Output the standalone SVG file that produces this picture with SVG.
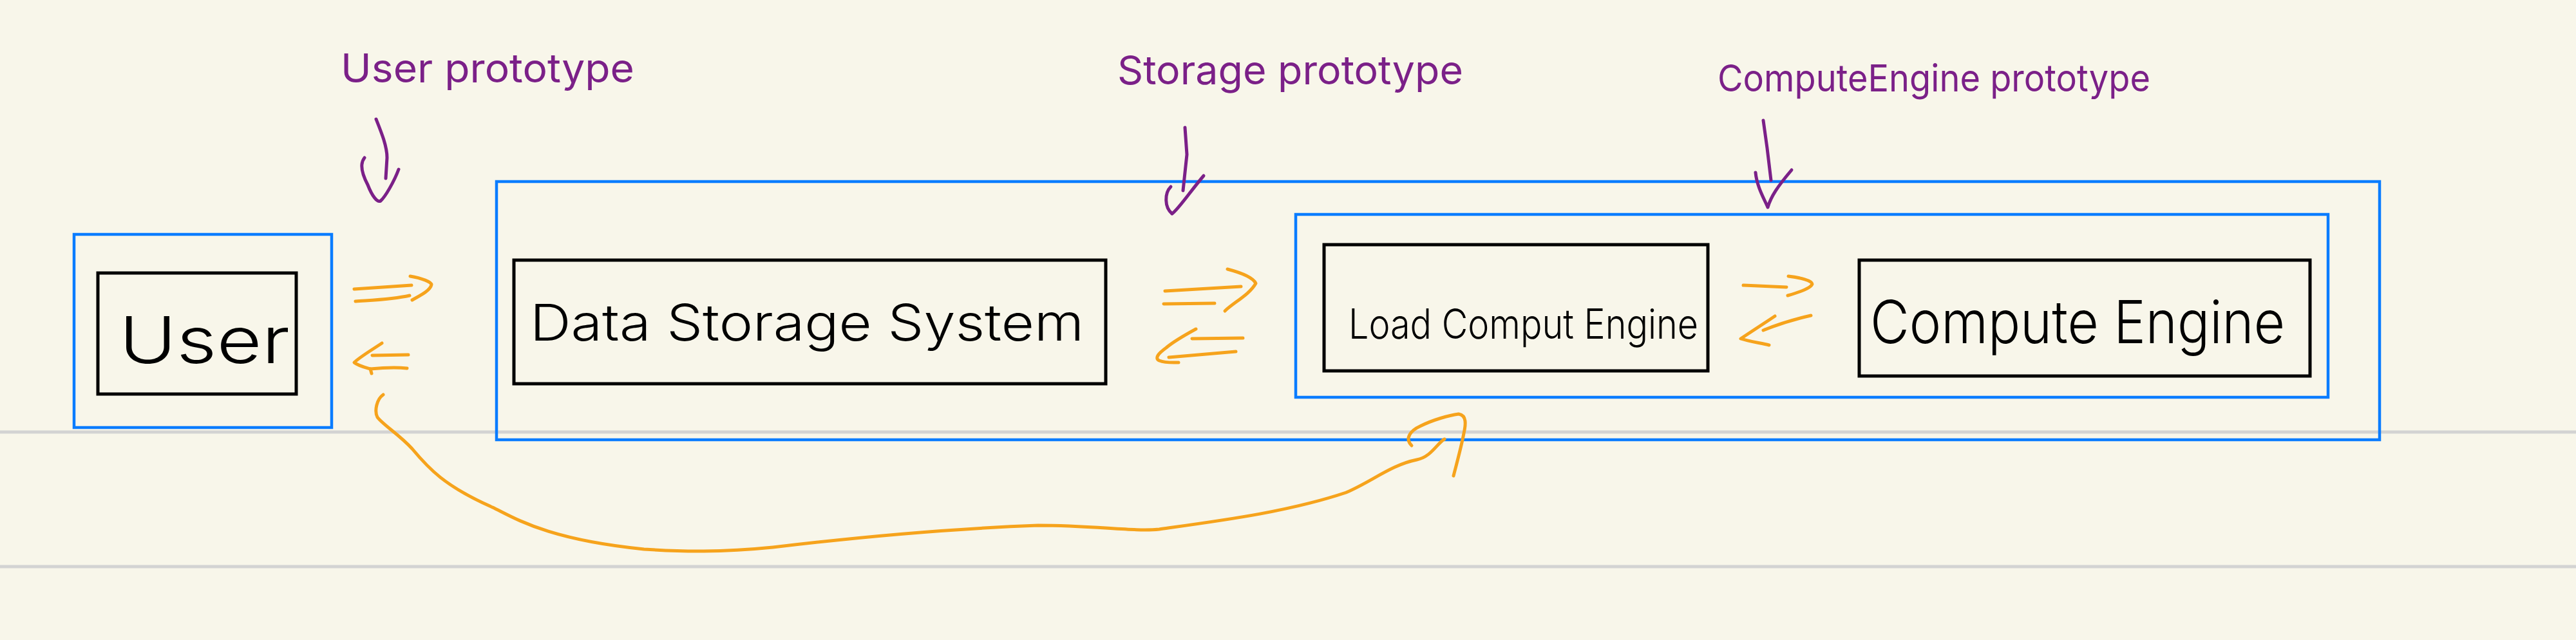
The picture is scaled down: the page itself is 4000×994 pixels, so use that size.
<svg xmlns="http://www.w3.org/2000/svg" width="4000" height="994" viewBox="0 0 4000 994">
<defs>
<style>
.bg{fill:#f8f6ea}
.rule{stroke:#d3d3d3;stroke-width:5;fill:none}
.frame{fill:none;stroke:#0a7cff;stroke-width:4.5}
.box{fill:none;stroke:#000;stroke-width:5}
.node{font-family:"Inter","Liberation Sans",sans-serif;font-weight:300;fill:#000}
.note{font-family:"Inter","Liberation Sans",sans-serif;font-weight:400;fill:#7b2088}
.ink{fill:none;stroke:#f6a31c;stroke-width:5;stroke-linecap:round;stroke-linejoin:round}
.pen{fill:none;stroke:#7b2088;stroke-width:5;stroke-linecap:round;stroke-linejoin:round}
</style>
</defs>
<rect class="bg" x="0" y="0" width="4000" height="994"/>
<g id="ruled-lines">
<line class="rule" x1="0" y1="671" x2="4000" y2="671"/>
<line class="rule" x1="0" y1="880" x2="4000" y2="880"/>
</g>

<g id="user-prototype">
<rect class="frame" x="115" y="364" width="400" height="300"/>
<text class="note" x="529" y="128" font-size="62" textLength="456" lengthAdjust="spacingAndGlyphs">User prototype</text>
</g>
<g id="user">
<rect class="box" x="152" y="424" width="308" height="188"/>
<text class="node" x="185" y="564" font-size="100" textLength="265" lengthAdjust="spacingAndGlyphs">User</text>
</g>

<g id="storage-prototype">
<rect class="frame" x="771" y="282" width="2924" height="401"/>
<text class="note" x="1735" y="131" font-size="62" textLength="537" lengthAdjust="spacingAndGlyphs">Storage prototype</text>
</g>
<g id="data-storage-system">
<rect class="box" x="798" y="404" width="919" height="192"/>
<text class="node" x="823" y="529" font-size="78" textLength="860" lengthAdjust="spacingAndGlyphs">Data Storage System</text>
</g>

<g id="compute-engine-prototype">
<rect class="frame" x="2012" y="333" width="1603" height="284"/>
<text class="note" x="2667" y="142" font-size="58" textLength="672" lengthAdjust="spacingAndGlyphs">ComputeEngine prototype</text>
</g>
<g id="load-compute-engine">
<rect class="box" x="2056" y="380" width="596" height="196"/>
<text class="node" x="2094" y="526" font-size="64" textLength="543" lengthAdjust="spacingAndGlyphs">Load Comput Engine</text>
</g>
<g id="compute-engine">
<rect class="box" x="2887" y="404" width="700" height="180"/>
<text class="node" x="2904" y="533" font-size="92" textLength="644" lengthAdjust="spacingAndGlyphs">Compute Engine</text>
</g>

<g id="connectors">
<!-- purple pointers from labels -->
<path class="pen" d="M584,185 C592,205 601,227 601,245 L599,277"/>
<path class="pen" d="M566,245 C558,255 562,270 571,287 C578,305 586,315 591,312 C598,306 612,282 619,263"/>
<path class="pen" d="M1840,198 L1843,240 L1837,296"/>
<path class="pen" d="M1818,290 C1808,300 1808,322 1820,332 C1830,325 1850,295 1869,273"/>
<path class="pen" d="M2738,187 L2744,230 L2750,280"/>
<path class="pen" d="M2726,268 C2728,290 2740,310 2745,322 C2750,305 2760,290 2782,264"/>

<!-- User <-> Data Storage -->
<path class="ink" d="M550,449 L639,443"/>
<path class="ink" d="M552,468 C580,466 610,465 636,459"/>
<path class="ink" d="M637,429 C655,432 670,438 670,442 C668,452 650,460 640,466"/>
<path class="ink" d="M578,552 L634,551"/>
<path class="ink" d="M575,573 C595,571 615,570 632,572"/>
<path class="ink" d="M593,533 C575,545 558,555 550,563 C556,568 568,571 575,573 L577,580"/>

<!-- Data Storage <-> Load Compute -->
<path class="ink" d="M1809,452 L1927,445"/>
<path class="ink" d="M1807,472 L1886,471"/>
<path class="ink" d="M1906,418 C1925,423 1945,430 1950,440 C1940,458 1915,470 1902,483"/>
<path class="ink" d="M1851,526 L1930,525"/>
<path class="ink" d="M1815,555 L1919,546"/>
<path class="ink" d="M1857,511 C1835,523 1818,534 1811,540 C1800,548 1792,556 1800,560 C1810,564 1822,563 1830,563"/>

<!-- Load Compute <-> Compute Engine -->
<path class="ink" d="M2707,443 C2730,444 2755,445 2774,446"/>
<path class="ink" d="M2777,429 C2795,431 2814,436 2814,441 C2812,448 2790,455 2776,459"/>
<path class="ink" d="M2738,513 C2760,504 2790,495 2812,490"/>
<path class="ink" d="M2756,491 C2735,505 2712,520 2703,526 C2715,530 2735,533 2747,536"/>

<!-- long return curve from User to Load Compute Engine -->
<path class="ink" d="M595,613 C585,620 581,638 586,648 C595,660 620,675 640,697 C665,727 690,755 765,788 C800,805 850,838 1000,853 C1060,857 1120,858 1200,850 C1300,838 1450,822 1612,816 C1700,816 1760,826 1800,822 C1900,808 2000,795 2090,765 C2130,748 2160,722 2200,714 C2222,710 2232,688 2243,682"/>
<path class="ink" d="M2192,692 C2180,680 2192,668 2205,662 C2225,652 2250,645 2265,643 C2278,645 2276,660 2273,673 C2270,690 2262,720 2257,739"/>
</g>
</svg>
